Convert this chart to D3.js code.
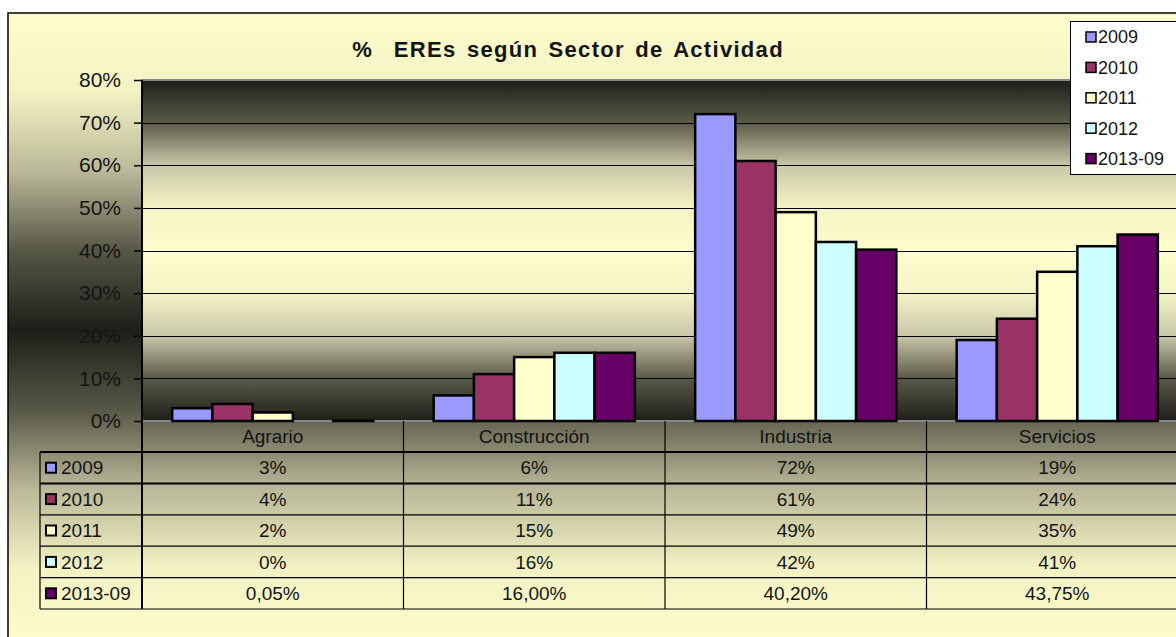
<!DOCTYPE html>
<html>
<head>
<meta charset="utf-8">
<script src="https://cdn.jsdelivr.net/npm/d3@7"></script>
<style>
  body { margin: 0; background: #fff; }
  text { font-family: "Liberation Sans", Arial, sans-serif; fill: #141414; }
</style>
</head>
<body>
<svg></svg>
<script>
const w = 1176
const h = 637

// data
const categories = ['Agrario', 'Construcción', 'Industria', 'Servicios']
const seriesNames = ['2009', '2010', '2011', '2012', '2013-09']
const v2009 = [3, 6, 72, 19]
const v2010 = [4, 11, 61, 24]
const v2011 = [2, 15, 49, 35]
const v2012 = [0, 16, 42, 41]
const v2013 = [0.05, 16, 40.2, 43.75]
const seriesDecimals = [0, 0, 0, 0, 2]
const yTicks = [0, 10, 20, 30, 40, 50, 60, 70, 80]

const seriesValues = [v2009, v2010, v2011, v2012, v2013]
const colors = ['#9999ff', '#993366', '#ffffcc', '#ccffff', '#660066']
const color = d3.scaleOrdinal().domain(seriesNames).range(colors)

const svg = d3.select('svg')
  .attr('width', w)
  .attr('height', h)

// layout
const frame = {x: 8, y: 13, w: 1200, h: 634}
const plot = {left: 142, right: 1188, top: 80, bottom: 421}
const tableLeft = 40
const tableBottom = 609

const defs = svg.append('defs')
const mirrorGrad = (id, y1, y2, stops) => {
  const g = defs.append('linearGradient').attr('id', id)
    .attr('gradientUnits', 'userSpaceOnUse')
    .attr('x1', 0).attr('x2', 0).attr('y1', y1).attr('y2', y2)
  const all = stops.concat(stops.slice(0, -1).reverse().map(s => [1 - s[0], s[1]]))
  all.forEach(s => g.append('stop').attr('offset', s[0]).attr('stop-color', s[1]))
}
// outer: light edges, dark middle
mirrorGrad('bgGrad', frame.y, frame.y + frame.h,
  [[0, '#fdfdcd'], [0.125, '#f3f2c3'], [0.25, '#b9b898'], [0.375, '#575746'], [0.5, '#1e1e19']])
// plot: dark edges, light middle
mirrorGrad('plotGrad', plot.top, plot.bottom,
  [[0, '#1e1e19'], [0.125, '#5a5a48'], [0.25, '#c8c7a8'], [0.375, '#f5f4c5'], [0.5, '#fdfdcd']])

svg.append('rect')
  .attr('x', frame.x).attr('y', frame.y)
  .attr('width', frame.w).attr('height', frame.h)
  .attr('fill', 'url(#bgGrad)')
  .attr('stroke', '#000').attr('stroke-width', 1.5)

svg.append('rect')
  .attr('x', plot.left).attr('y', plot.top)
  .attr('width', plot.right - plot.left).attr('height', plot.bottom - plot.top)
  .attr('fill', 'url(#plotGrad)')
  .attr('stroke', '#888').attr('stroke-width', 2)

// scales
const yScale = d3.scaleLinear()
  .domain([0, 80])
  .range([plot.bottom, plot.top])

const xScale = d3.scaleBand()
  .domain(categories)
  .range([plot.left, plot.right])

const xInner = d3.scaleBand()
  .domain(seriesNames)
  .range([0, xScale.bandwidth()])
  .paddingInner(0)
  .paddingOuter(0.75)

// gridlines
svg.append('g').selectAll('line')
  .data(yTicks.filter(d => d > 0 && d < 80))
  .enter().append('line')
  .attr('x1', plot.left).attr('x2', plot.right)
  .attr('y1', d => Math.round(yScale(d)) + 0.5)
  .attr('y2', d => Math.round(yScale(d)) + 0.5)
  .attr('stroke', '#000').attr('stroke-width', 1)

// bars
const barData = []
seriesNames.forEach((s, i) => {
  categories.forEach((c, j) => {
    barData.push({series: s, cat: c, value: seriesValues[i][j]})
  })
})

svg.append('g').selectAll('rect')
  .data(barData.filter(d => d.value > 0))
  .enter().append('rect')
  .attr('x', d => xScale(d.cat) + xInner(d.series))
  .attr('y', d => yScale(d.value))
  .attr('width', xInner.bandwidth())
  .attr('height', d => yScale(0) - yScale(d.value))
  .attr('fill', d => color(d.series))
  .attr('stroke', '#000')
  .attr('stroke-width', 2.5)

// y axis
const yAxisG = svg.append('g')
  .attr('transform', `translate(${plot.left}, 0)`)
  .call(d3.axisLeft(yScale)
    .tickValues(yTicks)
    .tickFormat(d => d + '%')
    .tickSize(8)
    .tickPadding(13))
yAxisG.select('.domain').remove()
yAxisG.selectAll('.tick line').attr('stroke', '#000').attr('stroke-width', 1.5)
yAxisG.selectAll('.tick text')
  .attr('font-size', '21px')
  .attr('font-family', '"Liberation Sans", Arial, sans-serif')
  .attr('fill', '#141414')

// data table
const rowScale = d3.scaleBand()
  .domain(seriesNames)
  .range([452, tableBottom])

const table = svg.append('g')

// category header
table.selectAll('.cat')
  .data(categories)
  .enter().append('text')
  .attr('class', 'cat')
  .attr('x', d => xScale(d) + xScale.bandwidth() / 2)
  .attr('y', (plot.bottom + 452) / 2)
  .attr('dy', '0.35em')
  .attr('text-anchor', 'middle')
  .attr('font-size', '19px')
  .text(d => d)

// horizontal rules
const hLines = [452].concat(seriesNames.map(s => rowScale(s) + rowScale.bandwidth()))
table.selectAll('.hline')
  .data(hLines)
  .enter().append('line')
  .attr('x1', tableLeft).attr('x2', plot.right)
  .attr('y1', d => d).attr('y2', d => d)
  .attr('stroke', '#000')
  .attr('stroke-width', (d, i) => i < 2 ? 2 : 1.2)

// vertical rules
const vLines = categories.map(c => xScale(c)).concat([plot.right])
table.selectAll('.vline')
  .data(vLines)
  .enter().append('line')
  .attr('x1', d => d).attr('x2', d => d)
  .attr('y1', plot.bottom).attr('y2', tableBottom)
  .attr('stroke', '#000')
  .attr('stroke-width', (d, i) => i === 0 ? 2 : 1.2)

table.append('line')
  .attr('x1', tableLeft).attr('x2', tableLeft)
  .attr('y1', 452).attr('y2', tableBottom)
  .attr('stroke', '#000').attr('stroke-width', 1.2)

// y axis line
svg.append('line')
  .attr('x1', plot.left).attr('x2', plot.left)
  .attr('y1', plot.top).attr('y2', plot.bottom)
  .attr('stroke', '#000').attr('stroke-width', 2)

// row labels with keys
const rows = table.selectAll('.row')
  .data(seriesNames)
  .enter().append('g')
  .attr('transform', d => `translate(0, ${rowScale(d) + rowScale.bandwidth() / 2})`)

rows.append('rect')
  .attr('x', 46).attr('y', -5)
  .attr('width', 10).attr('height', 10)
  .attr('fill', d => color(d))
  .attr('stroke', '#000').attr('stroke-width', 2)

rows.append('text')
  .attr('x', 61)
  .attr('dy', '0.35em')
  .attr('font-size', '19px')
  .text(d => d)

const fmtVal = (v, dec) => d3.format(`.${dec}f`)(v).replace('.', ',') + '%'

rows.selectAll('.val')
  .data((d, i) => categories.map((c, j) => ({cat: c, value: seriesValues[i][j], dec: seriesDecimals[i]})))
  .enter().append('text')
  .attr('x', d => xScale(d.cat) + xScale.bandwidth() / 2)
  .attr('dy', '0.35em')
  .attr('text-anchor', 'middle')
  .attr('font-size', '19px')
  .text(d => fmtVal(d.value, d.dec))

// title
svg.append('text')
  .attr('x', 568)
  .attr('y', 57)
  .attr('text-anchor', 'middle')
  .attr('font-size', '22px')
  .attr('font-weight', 'bold')
  .style('white-space', 'pre')
  .style('letter-spacing', '1.3px')
  .style('word-spacing', '3px')
  .attr('fill', '#000')
  .text('%  EREs según Sector de Actividad')

// legend
const legend = svg.append('g')
legend.append('rect')
  .attr('x', 1070.5).attr('y', 21.5)
  .attr('width', 130).attr('height', 153)
  .attr('fill', '#fff')
  .attr('stroke', '#000').attr('stroke-width', 1)

const legItems = legend.selectAll('.item')
  .data(seriesNames)
  .enter().append('g')
  .attr('transform', (d, i) => `translate(0, ${37 + i * 30.4})`)

legItems.append('rect')
  .attr('x', 1086).attr('y', -5)
  .attr('width', 10).attr('height', 10)
  .attr('fill', d => color(d))
  .attr('stroke', '#000').attr('stroke-width', 1.5)

legItems.append('text')
  .attr('x', 1098)
  .attr('dy', '0.35em')
  .attr('font-size', '18px')
  .text(d => d)
</script>
</body>
</html>
